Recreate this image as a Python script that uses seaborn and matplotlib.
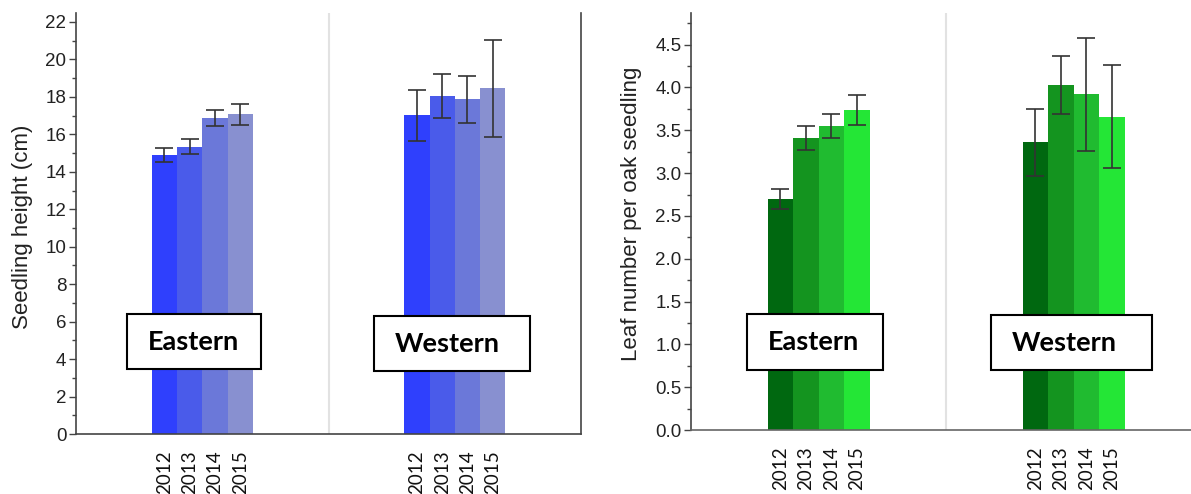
import numpy as np
import pandas as pd
import matplotlib
matplotlib.use("Agg")
import matplotlib.pyplot as plt
from matplotlib.patches import Rectangle
from matplotlib.ticker import MultipleLocator
import seaborn as sns

years = ["2012", "2013", "2014", "2015"]
regions = ["Eastern", "Western"]

height_east = [14.90, 15.34, 16.89, 17.07]
height_east_err = [0.38, 0.40, 0.43, 0.57]
height_west = [17.01, 18.03, 17.87, 18.45]
height_west_err = [1.38, 1.18, 1.25, 2.60]

leaf_east = [2.70, 3.41, 3.55, 3.735]
leaf_east_err = [0.12, 0.14, 0.145, 0.175]
leaf_west = [3.36, 4.03, 3.92, 3.66]
leaf_west_err = [0.39, 0.34, 0.66, 0.60]

blues = ["#2f40fd", "#4a5bea", "#6b78d9", "#8890d0"]
greens = ["#006810", "#14941f", "#20bb30", "#24e636"]

W, H = 1191, 494


def make_df(east, east_err, west, west_err):
    return pd.DataFrame({
        "region": ["Eastern"] * 4 + ["Western"] * 4,
        "year": years * 2,
        "value": east + west,
        "err": east_err + west_err,
    })


def draw_panel(ax, df, colors, ylabel, ymax, major, xmax, label_xy):
    sns.barplot(data=df, x="region", y="value", hue="year", order=regions,
                hue_order=years, palette=colors, width=0.4, saturation=1,
                errorbar=None, legend=False, linewidth=0, ax=ax, zorder=2)
    centers, labels = [], []
    for year, cont in zip(years, ax.containers):
        for region, bar in zip(regions, cont):
            row = df[(df.region == region) & (df.year == year)].iloc[0]
            cx = bar.get_x() + bar.get_width() / 2
            ax.errorbar(cx, bar.get_height(), yerr=row.err, color="#333333",
                        lw=1.2, capsize=6.5, capthick=1.2, zorder=3)
            centers.append(cx)
            labels.append(year)
    ax.set_xticks(centers)
    ax.set_xticklabels(labels, rotation=90, fontsize=13.5, family="Lato",
                       color="#111111")
    ax.tick_params(axis="x", length=0, pad=12)
    ax.axvline(0.5, color="#e2e2e2", lw=1.5, zorder=1)
    ax.set_xlim(-0.5, xmax)
    ax.set_ylim(0, ymax)
    ax.yaxis.set_major_locator(MultipleLocator(major))
    ax.yaxis.set_minor_locator(MultipleLocator(major / 2))
    ax.tick_params(axis="y", which="major", length=5, width=1,
                   color="#444444", labelsize=13.5, labelcolor="#222222", pad=2)
    ax.tick_params(axis="y", which="minor", length=3, width=1,
                   color="#444444")
    ax.set_xlabel("")
    ax.set_ylabel(ylabel, fontsize=16, color="#222222")
    ax.yaxis.set_label_coords(*label_xy)
    for s in ["left", "bottom"]:
        ax.spines[s].set_color("#444444")
        ax.spines[s].set_linewidth(1.2)
    ax.spines["top"].set_visible(False)


def px_axes(fig, x0, y0, x1, y1):
    return fig.add_axes([x0 / W, (H - y1) / H, (x1 - x0) / W, (y1 - y0) / H])


def label_box(fig, x0, y0, x1, y1, text, tx):
    fig.add_artist(Rectangle((x0 / W, (H - y1) / H), (x1 - x0) / W,
                             (y1 - y0) / H, transform=fig.transFigure,
                             facecolor="white", edgecolor="black", lw=1.5,
                             zorder=5))
    fig.text(tx / W, (H - (y0 + y1) / 2) / H, text, ha="center",
             va="center", fontsize=19.5, fontweight="bold", family="Lato",
             color="black", zorder=6)


sns.set_theme(style="ticks")
plt.rcParams["font.family"] = ["Liberation Sans", "DejaVu Sans"]

fig = plt.figure(figsize=(W / 100, H / 100), dpi=100)

ax1 = px_axes(fig, 76, 13, 581, 434)
draw_panel(ax1, make_df(height_east, height_east_err, height_west, height_west_err),
           blues, "Seedling height (cm)", 22.48, 2, 1.5, (-0.085, 0.492))
ax1.spines["right"].set_color("#444444")
ax1.spines["right"].set_linewidth(1.2)

ax2 = px_axes(fig, 691, 13, 1191, 430)
draw_panel(ax2, make_df(leaf_east, leaf_east_err, leaf_west, leaf_west_err),
           greens, "Leaf number per oak seedling", 4.87, 0.5, -0.5 + 500 / 255,
           (-0.098, 0.518))
ax2.spines["right"].set_visible(False)
ax2.spines["bottom"].set_color("#666666")

label_box(fig, 127, 314, 261, 369, "Eastern", 193)
label_box(fig, 374, 316, 530, 371, "Western", 447)
label_box(fig, 747, 314, 883, 370, "Eastern", 813)
label_box(fig, 991, 315, 1152, 370, "Western", 1064)

fig.savefig("out.png", dpi=100)
